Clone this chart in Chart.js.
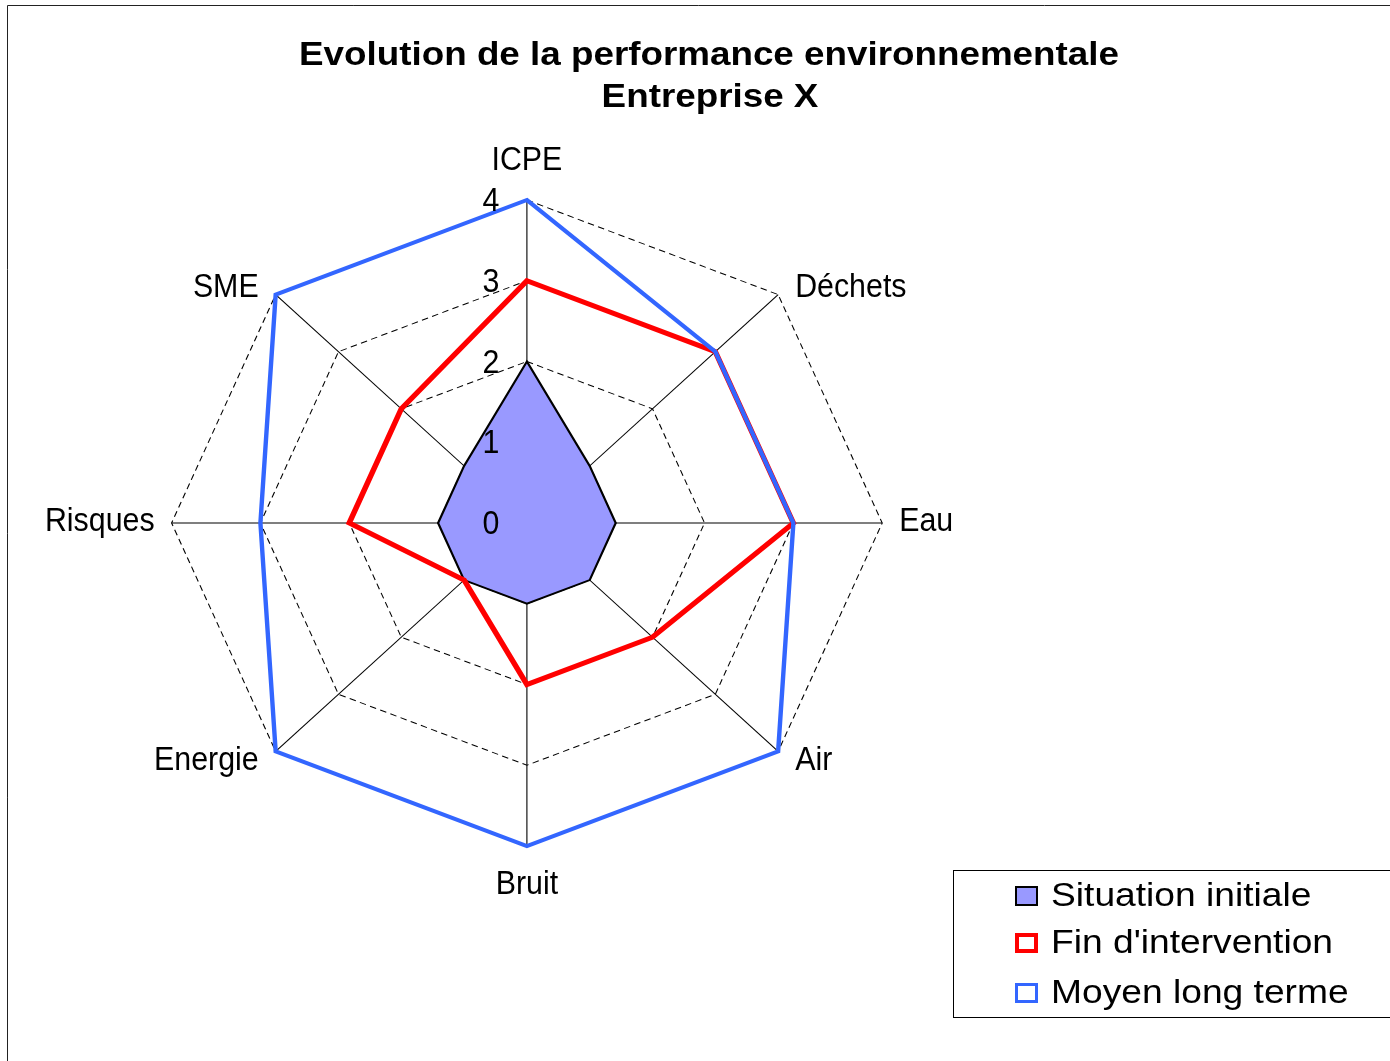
<!DOCTYPE html>
<html>
<head>
<meta charset="utf-8">
<script src="https://cdn.jsdelivr.net/npm/chart.js@4.4.1/dist/chart.umd.min.js"></script>
<style>
  body { margin: 0; background: #fff; }
  canvas { display: block; }
</style>
</head>
<body>
<canvas id="radar" width="1390" height="1061"></canvas>
<script>
// Données du graphique
const categories = ['ICPE', 'Déchets', 'Eau', 'Air', 'Bruit', 'Energie', 'Risques', 'SME'];
const situationInitiale = [2, 1, 1, 1, 1, 1, 1, 1];
const finIntervention = [3, 3, 3, 2, 2, 1, 2, 2];
const moyenLongTerme = [4, 3, 3, 4, 4, 4, 3, 4];
const tickValues = [0, 1, 2, 3, 4];
const seriesNames = ['Situation initiale', "Fin d'intervention", 'Moyen long terme'];
const titleLines = ['Evolution de la performance environnementale', 'Entreprise X'];

const SX = 1.1; // l'image d'origine est étirée horizontalement
const police = '"Liberation Sans", Arial, sans-serif';

function texte(ctx, txt, x, y, font, align, sx) {
    ctx.save();
    ctx.translate(x, y + 2);
    ctx.scale(sx, 1);
    ctx.font = font;
    ctx.textAlign = align;
    ctx.textBaseline = 'middle';
    ctx.fillStyle = '#000';
    ctx.fillText(txt, 0, 0);
    ctx.restore();
}

// Textes, cadre et légende dessinés après le graphique
function dessinerTextes(chart) {
    const ctx = chart.ctx;
    const scale = chart.scales.r;

    // cadre
    ctx.save();
    ctx.strokeStyle = '#222';
    ctx.lineWidth = 1;
    ctx.beginPath();
    ctx.moveTo(7.5, 1061);
    ctx.lineTo(7.5, 5.5);
    ctx.lineTo(1390, 5.5);
    ctx.stroke();
    ctx.restore();

    // titre
    texte(ctx, titleLines[0], 709, 54, 'bold 33px ' + police, 'center', 1.115);
    texte(ctx, titleLines[1], 710, 96, 'bold 33px ' + police, 'center', 1.115);

    // graduations
    tickValues.forEach(v => {
        const y = scale.yCenter - scale.getDistanceFromCenterForValue(v);
        texte(ctx, String(v), scale.xCenter * SX - 36, y, '33px ' + police, 'center', 0.92);
    });

    // libellés des axes
    categories.forEach((cat, i) => {
        const p = scale.getPointPosition(i, scale.drawingArea);
        const a = scale.getIndexAngle(i);
        const s = Math.sin(a), c = Math.cos(a);
        let x = p.x * SX, y = p.y, align;
        if (Math.abs(s) < 0.01) {
            align = 'center';
            y += c > 0 ? -41 : 37;
        } else {
            align = s > 0 ? 'left' : 'right';
            x += s > 0 ? 17 : -17;
            if (Math.abs(c) < 0.01) y += -3;
            else y += c > 0 ? -9 : 8;
        }
        texte(ctx, cat, x, y, '33px ' + police, align, 0.92);
    });

    // légende
    ctx.save();
    ctx.strokeStyle = '#000';
    ctx.lineWidth = 1;
    ctx.strokeRect(953.5, 870.5, 500, 147);
    const rows = [895, 942, 992];
    const ds = chart.data.datasets;
    ds.forEach((d, i) => {
        const y = rows[i];
        ctx.lineWidth = d.legendLine;
        ctx.fillStyle = i === 0 ? d.backgroundColor : '#fff';
        ctx.fillRect(1015, y - 9, 23, 20);
        ctx.strokeStyle = d.borderColor;
        ctx.strokeRect(1015 + d.legendLine / 2, y - 9 + d.legendLine / 2, 23 - d.legendLine, 20 - d.legendLine);
        texte(ctx, d.label, 1051, y, '33.5px ' + police, 'left', 1.11);
    });
    ctx.restore();
}

const etirement = {
    id: 'etirement',
    beforeDraw(chart) {
        chart.ctx.save();
        chart.ctx.scale(SX, 1);
    },
    afterDraw(chart) {
        chart.ctx.restore();
        dessinerTextes(chart);
    }
};

const config = {
    type: 'radar',
    data: {
        labels: categories,
        datasets: [{
            label: seriesNames[0],
            data: situationInitiale,
            backgroundColor: '#9999FF',
            borderColor: '#000',
            borderWidth: 2,
            fill: true,
            order: 2,
            legendLine: 2
        }, {
            label: seriesNames[1],
            data: finIntervention,
            borderColor: '#FF0000',
            borderWidth: 5,
            fill: false,
            order: 1,
            legendLine: 4
        }, {
            label: seriesNames[2],
            data: moyenLongTerme,
            borderColor: '#3366FF',
            borderWidth: 4,
            fill: false,
            order: 0,
            legendLine: 3
        }]
    },
    options: {
        responsive: false,
        animation: false,
        layout: { padding: { left: 156, right: 588, top: 200, bottom: 215 } },
        elements: {
            point: { radius: 0, hoverRadius: 0 },
            line: { tension: 0, borderJoinStyle: 'miter' }
        },
        plugins: {
            legend: { display: false },
            title: { display: false },
            tooltip: { enabled: false }
        },
        scales: {
            r: {
                min: 0,
                max: 4,
                z: 1,
                ticks: { display: false, stepSize: 1, z: 1 },
                pointLabels: { display: false },
                grid: { color: '#000', lineWidth: 1, borderDash: [6, 4] },
                border: { dash: [6, 4] },
                angleLines: { color: '#000', lineWidth: 1 }
            }
        }
    },
    plugins: [etirement]
};

new Chart(document.getElementById('radar'), config);
</script>
</body>
</html>
